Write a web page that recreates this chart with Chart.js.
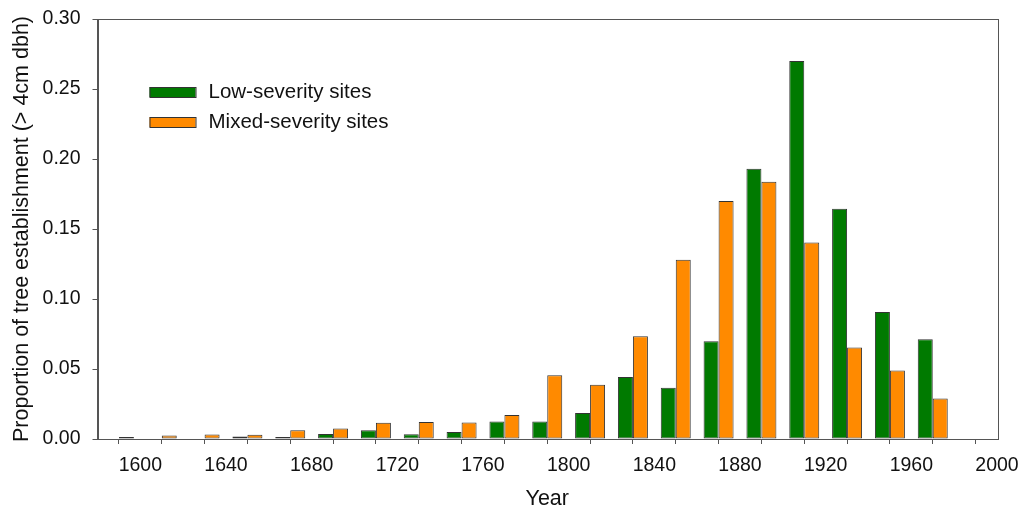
<!DOCTYPE html>
<html>
<head>
<meta charset="utf-8">
<script src="https://cdn.jsdelivr.net/npm/chart.js@4"></script>
<style>
  html, body { margin: 0; padding: 0; background: #fff; }
  #wrap { width: 1022px; height: 509px; }
</style>
</head>
<body>
<div id="wrap"><canvas id="chart"></canvas></div>
<script>
// bin centres (20-year classes)
const years = [1590, 1610, 1630, 1650, 1670, 1690, 1710, 1730, 1750, 1770,
               1790, 1810, 1830, 1850, 1870, 1890, 1910, 1930, 1950, 1970];
const lowSeverity = [0, 0, 0, 0.0018, 0.0015, 0.0035, 0.0063, 0.0034, 0.005, 0.0125,
                     0.0125, 0.0186, 0.0442, 0.0366, 0.0698, 0.193, 0.270, 0.1644, 0.0907, 0.0713];
const mixedSeverity = [0.0015, 0.0025, 0.0032, 0.003, 0.0063, 0.0075, 0.0116, 0.0122, 0.0118, 0.0172,
                       0.0455, 0.0388, 0.0734, 0.128, 0.170, 0.1837, 0.1404, 0.0653, 0.0489, 0.0289];
const xTicks = [1600, 1640, 1680, 1720, 1760, 1800, 1840, 1880, 1920, 1960, 2000];
const legendLabels = ['Low-severity sites', 'Mixed-severity sites'];

const FONT = "'Liberation Sans', Arial, sans-serif";
const colors = ['#007a00', '#ff8a00'];

// frame round the plot + legend inside the plot area
const framePlugin = {
  id: 'frame',
  afterDraw(chart) {
    const { ctx, chartArea: a } = chart;
    ctx.save();
    ctx.strokeStyle = '#555';
    ctx.lineWidth = 1;
    ctx.strokeRect(Math.round(a.left) + 0.5, Math.round(a.top) + 0.5,
                   Math.round(a.right - a.left), Math.round(a.bottom - a.top));

    // legend
    let x = a.left + 52, y = a.top + 68;
    ctx.font = '20.5px ' + FONT;
    ctx.textBaseline = 'middle';
    legendLabels.forEach((lab, i) => {
      ctx.fillStyle = colors[i];
      ctx.fillRect(x, y, 46, 10);
      ctx.strokeStyle = '#333';
      ctx.strokeRect(x + 0.5, y + 0.5, 46, 10);
      ctx.fillStyle = '#111';
      ctx.fillText(lab, x + 59, y + 5.5);
      y += 30;
    });
    ctx.restore();
  }
};

// fixed axis sizes, no automatic edge padding
function fixSize(prop, size) {
  return (scale) => {
    scale[prop] = size;
    scale.paddingLeft = scale.paddingRight = scale.paddingTop = scale.paddingBottom = 0;
  };
}

new Chart(document.getElementById('chart'), {
  type: 'bar',
  data: {
    datasets: [
      {
        label: legendLabels[0],
        data: years.map((yr, i) => ({ x: yr, y: lowSeverity[i] })),
        backgroundColor: colors[0],
        borderColor: '#333',
        borderWidth: 1,
        borderSkipped: false,
      },
      {
        label: legendLabels[1],
        data: years.map((yr, i) => ({ x: yr, y: mixedSeverity[i] })),
        backgroundColor: colors[1],
        borderColor: '#333',
        borderWidth: 1,
        borderSkipped: false,
      },
    ],
  },
  options: {
    responsive: true,
    maintainAspectRatio: false,
    animation: false,
    categoryPercentage: 0.7,
    barPercentage: 1.0,
    layout: { padding: { left: 11, right: 25, top: 19, bottom: 0 } },
    plugins: {
      legend: { display: false },
      tooltip: { enabled: false },
    },
    scales: {
      x: {
        type: 'linear',
        min: 1580,
        max: 2000,
        offset: false,
        afterFit: fixSize('height', 70),
        afterBuildTicks(scale) {
          const t = [];
          for (let v = 1580; v <= 2000; v += 20) t.push({ value: v });
          scale.ticks = t;
        },
        ticks: {
          autoSkip: false,
          maxRotation: 0,
          padding: 9.5,
          color: '#111',
          font: { family: FONT, size: 19.5 },
          callback: (v) => (xTicks.includes(v) ? String(v) : ''),
        },
        grid: { drawOnChartArea: false, drawTicks: true, tickLength: 5, color: '#555' },
        border: { color: '#555' },
        title: {
          display: true,
          text: 'Year',
          color: '#111',
          font: { family: FONT, size: 21.5, lineHeight: 1 },
          padding: { top: 0, bottom: -1 },
        },
      },
      y: {
        min: 0,
        max: 0.3,
        afterFit: fixSize('width', 86.5),
        ticks: {
          stepSize: 0.05,
          padding: 12,
          color: '#111',
          font: { family: FONT, size: 19.5 },
          callback: (v) => v.toFixed(2),
        },
        grid: { drawOnChartArea: false, drawTicks: true, tickLength: 5, color: '#555' },
        border: { color: '#555' },
        title: {
          display: true,
          text: 'Proportion of tree establishment (> 4cm dbh)',
          color: '#111',
          font: { family: FONT, size: 21.5, lineHeight: 1 },
          padding: { top: 0, bottom: 0 },
        },
      },
    },
  },
  plugins: [framePlugin],
});
</script>
</body>
</html>
